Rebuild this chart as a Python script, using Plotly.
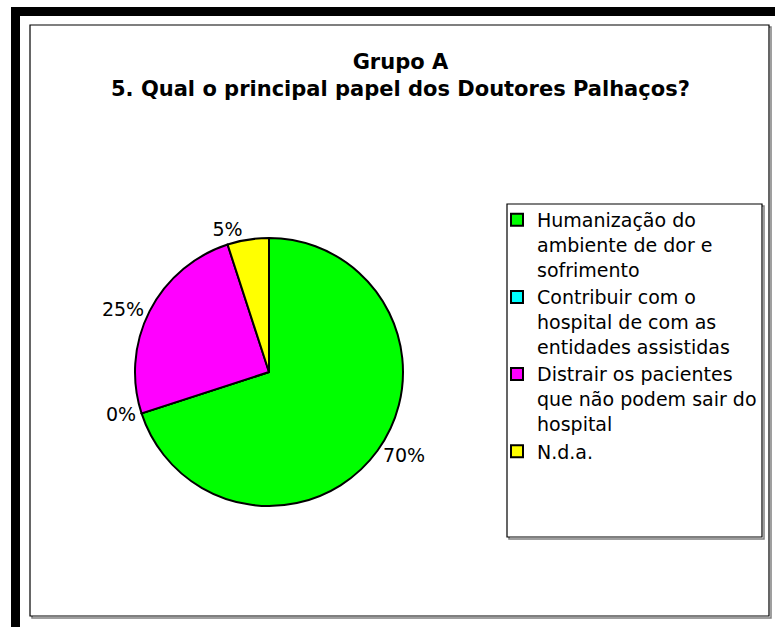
import plotly.graph_objects as go

# ---- data ----
labels = [
    "Humanização do<br>ambiente de dor e<br>sofrimento",
    "Contribuir com o<br>hospital de com as<br>entidades assistidas",
    "Distrair os pacientes<br>que não podem sair do<br>hospital",
    "N.d.a.",
]
values = [70, 0, 25, 5]
slice_colors = ["#00FF00", "#00FFFF", "#FF00FF", "#FFFF00"]

title_line1 = "Grupo A"
title_line2 = "5. Qual o principal papel dos Doutores Palhaços?"

W, H = 775, 627
FONT = "DejaVu Sans, Liberation Sans, Arial, sans-serif"


def px(x):
    return x / W


def py(y):
    return 1 - y / H


fig = go.Figure()
fig.add_trace(go.Pie(
    labels=labels,
    values=values,
    sort=False,
    direction="clockwise",
    rotation=0,
    marker=dict(colors=slice_colors, line=dict(color="black", width=2)),
    texttemplate="%{percent:.0%}",
    textposition="outside",
    textfont=dict(family=FONT, size=19, color="black"),
    outsidetextfont=dict(family=FONT, size=19, color="black"),
    domain=dict(x=[px(269 - 134), px(269 + 134)], y=[py(372 + 134), py(372 - 134)]),
    showlegend=True,
    hoverinfo="label+percent",
))

shapes = []
# outer heavy black frame (top and left)
shapes.append(dict(type="rect", xref="paper", yref="paper",
                   x0=px(11), x1=px(775), y0=py(16), y1=py(7),
                   fillcolor="black", line=dict(width=0), layer="below"))
shapes.append(dict(type="rect", xref="paper", yref="paper",
                   x0=px(11), x1=px(20), y0=py(627), y1=py(7),
                   fillcolor="black", line=dict(width=0), layer="below"))
# chart area shadow + border
shapes.append(dict(type="rect", xref="paper", yref="paper",
                   x0=px(32), x1=px(771), y0=py(618), y1=py(27),
                   fillcolor="rgba(0,0,0,0)", line=dict(color="#808080", width=1.5), layer="below"))
shapes.append(dict(type="rect", xref="paper", yref="paper",
                   x0=px(30), x1=px(769), y0=py(616), y1=py(25),
                   fillcolor="white", line=dict(color="black", width=1.2), layer="below"))
# legend box shadow + border
shapes.append(dict(type="rect", xref="paper", yref="paper",
                   x0=px(509), x1=px(764), y0=py(539), y1=py(206),
                   fillcolor="rgba(0,0,0,0)", line=dict(color="#808080", width=1.5), layer="below"))
shapes.append(dict(type="rect", xref="paper", yref="paper",
                   x0=px(507), x1=px(762), y0=py(537), y1=py(204),
                   fillcolor="white", line=dict(color="black", width=1.2), layer="below"))

fig.update_layout(
    width=W, height=H,
    margin=dict(l=0, r=0, t=0, b=0),
    paper_bgcolor="white",
    plot_bgcolor="white",
    font=dict(family=FONT, size=19, color="black"),
    shapes=shapes,
    legend=dict(
        x=px(497), y=py(201), xanchor="left", yanchor="top",
        bgcolor="rgba(0,0,0,0)", borderwidth=0,
        font=dict(family=FONT, size=19, color="black"),
        valign="top", itemwidth=30,
        traceorder="normal",
    ),
    annotations=[dict(
        text=f"<b>{title_line1}</b><br><b>{title_line2}</b>",
        x=px(400), y=py(75.5), xref="paper", yref="paper",
        xanchor="center", yanchor="middle", showarrow=False,
        font=dict(family=FONT, size=21, color="black"),
        align="center",
    )],
)

fig.write_html(
    "out.html",
    config={"displayModeBar": False},
    post_script="document.body.style.margin='0';document.body.style.padding='0';document.body.style.overflow='hidden';",
)
